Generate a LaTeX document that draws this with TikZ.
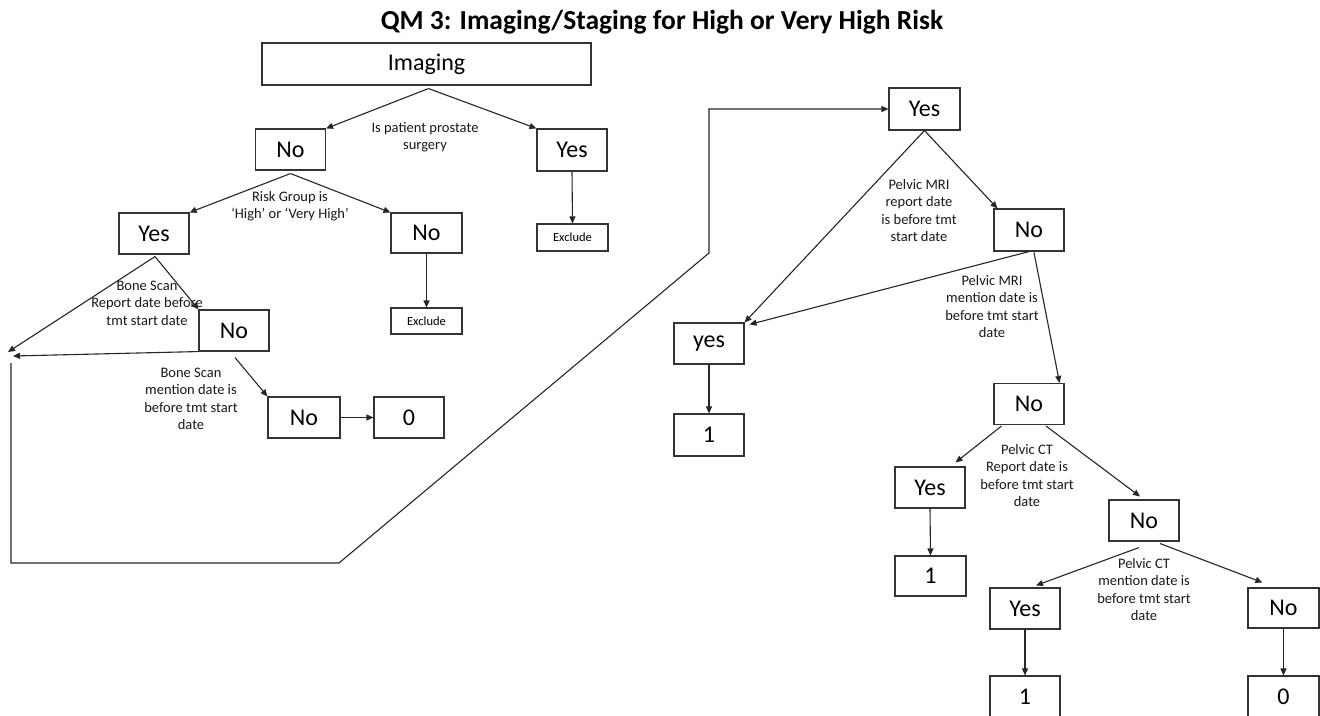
\documentclass[tikz,border=0pt]{standalone}
\usepackage{fontspec}
\setmainfont{Carlito}
\usetikzlibrary{arrows.meta,calc}
\begin{document}
\begin{tikzpicture}[x=1pt,y=-1pt,
 box/.style={draw=black!80,line width=1.1pt,minimum width=70pt,minimum height=41pt,inner sep=0pt,font=\fontsize{24}{28}\selectfont},
 smallbox/.style={box,minimum height=26pt,font=\fontsize{12.5}{14}\selectfont},
 lbl/.style={align=center,inner sep=0pt,text=black!90,font=\fontsize{14.5}{17.5}\selectfont},
 arr/.style={draw=black!85,line width=1.1pt,-{Triangle[length=7pt,width=6pt]}},
 ln/.style={draw=black!85,line width=1.1pt}]
\clip (0,0) rectangle (1320,715);
\fill[white] (0,0) rectangle (1320,715);
% title
\node[font=\fontsize{27.5}{31}\selectfont\bfseries] (title) at (662,22) {QM 3: Imaging/Staging for High or Very High Risk};
% left tree
\node[box,minimum width=329pt,minimum height=42pt] (imaging) at (426.5,64) {Imaging};
\node[box] (no1) at (290.5,149.5) {No};
\node[box,minimum height=42pt] (yes1) at (572,150) {Yes};
\node[smallbox,minimum width=71pt,minimum height=27pt] (ex1) at (572.5,237.5) {Exclude};
\node[box] (yes2) at (154,233.5) {Yes};
\node[box,minimum width=71pt,minimum height=40pt] (no2) at (426.5,233) {No};
\node[smallbox,minimum width=71pt] (ex2) at (426.5,321) {Exclude};
\node[box] (no3) at (234,330.5) {No};
\node[box,minimum width=72pt] (no4) at (304,417.5) {No};
\node[box] (z1) at (409,417.5) {0};
% right tree
\node[box,minimum width=71pt,minimum height=42pt] (yes3) at (924.5,109) {Yes};
\node[box,minimum height=42pt] (no5) at (1029,230) {No};
\node[box] (yes4) at (709,343.5) {yes};
\node[box,minimum height=42pt] (one1) at (709,435) {1};
\node[box] (no6) at (1029,404) {No};
\node[box] (yes5) at (930,487.5) {Yes};
\node[box,minimum width=71pt,minimum height=40pt] (one2) at (930.5,576) {1};
\node[box] (no7) at (1144,520.5) {No};
\node[box] (yes6) at (1025,608.5) {Yes};
\node[box,minimum height=42pt] (one3) at (1025,697) {1};
\node[box,minimum width=71pt,minimum height=40pt] (no8) at (1283.5,608) {No};
\node[box,minimum width=71pt,minimum height=42pt] (zero2) at (1283.5,697) {0};
% labels
\node[lbl] (l1) at (425,137) {Is patient prostate\\surgery};
\node[lbl] (l2) at (290,206) {Risk Group is\\‘High’ or ‘Very High’};
\node[lbl] (l3) at (147,303) {Bone Scan\\Report date before\\tmt start date};
\node[lbl] (l4) at (191,399) {Bone Scan\\mention date is\\before tmt start\\date};
\node[lbl] (l5) at (919,210.5) {Pelvic MRI\\report date\\is before tmt\\start date};
\node[lbl] (l6) at (992,306.5) {Pelvic MRI\\mention date is\\before tmt start\\date};
\node[lbl] (l7) at (1027,475.5) {Pelvic CT\\Report date is\\before tmt start\\date};
\node[lbl] (l8) at (1144,589.5) {Pelvic CT\\mention date is\\before tmt start\\date};
% coordinates
\coordinate (bsL) at (8,352);
\coordinate (bsM) at (13,356);
\coordinate (lpA) at (11,363);
\coordinate (lpB) at (339,563);
\coordinate (lpC) at (709,253);
% connectors left
\draw[arr] ($(imaging.south)+(2,3)$) -- (no1.north east);
\draw[arr] ($(imaging.south)+(2,3)$) -- (yes1.north west);
\draw[arr] (yes1.south) -- (ex1.north);
\draw[arr] ($(no1.south)+(0,3)$) -- (yes2.north east);
\draw[arr] ($(no1.south)+(0,3)$) -- (no2.north west);
\draw[arr] (no2.south) -- (ex2.north);
\draw[arr] ($(yes2.south)+(1,2)$) -- (bsL);
\draw[arr] ($(yes2.south)+(1,2)$) -- (no3.north west);
\draw[arr] (no3.south west) -- (bsM);
\draw[arr] ($(no3.south)+(1,6)$) -- (no4.north west);
\draw[arr] (no4.east) -- (z1.west);
\draw[arr] (lpA) |- (lpB) -- (lpC) |- (yes3.west);
% connectors right
\draw[arr] (yes3.south) -- (yes4.north east);
\draw[arr] (yes3.south) -- ($(no5.north west)+(4,0)$);
\draw[arr] (no5.south) -- ($(yes4.north east)+(5,2)$);
\draw[arr] ($(no5.south)+(5,1)$) -- ($(no6.north east)+(-5,0)$);
\draw[arr] (yes4.south) -- (one1.north);
\draw[arr] ($(no6.south west)+(8,1)$) -- ($(yes5.north east)+(-10,-4)$);
\draw[arr] ($(no6.south)+(17,1)$) -- ($(no7.north)+(-4,-3)$);
\draw[arr] (yes5.south) -- (one2.north);
\draw[arr] ($(no7.south)+(-5,6)$) -- ($(yes6.north)+(11,-2)$);
\draw[arr] ($(no7.south)+(16,2)$) -- ($(no8.north west)+(15,-5)$);
\draw[arr] (yes6.south) -- (one3.north);
\draw[arr] (no8.south) -- (zero2.north);
\end{tikzpicture}
\end{document}
